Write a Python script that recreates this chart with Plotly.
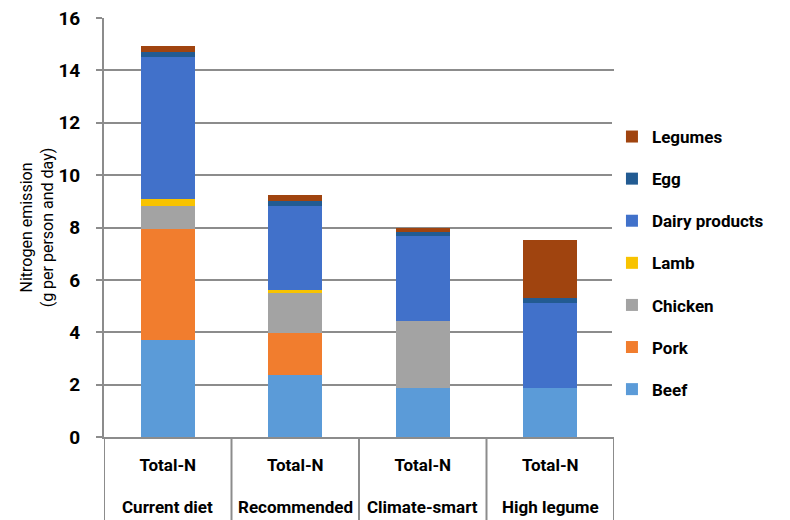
import plotly.graph_objects as go

diets = ["Current diet", "Recommended", "Climate-smart", "High legume"]
measure = ["Total-N", "Total-N", "Total-N", "Total-N"]

beef = [3.71, 2.35, 1.89, 1.89]
pork = [4.22, 1.64, 0.0, 0.0]
chicken = [0.89, 1.52, 2.53, 0.0]
lamb = [0.28, 0.10, 0.0, 0.0]
dairy = [5.40, 3.21, 3.25, 3.24]
egg = [0.19, 0.18, 0.16, 0.19]
legumes = [0.23, 0.23, 0.15, 2.20]

series = [
    ("Beef", beef, "#5B9BD8"),
    ("Pork", pork, "#F17D2E"),
    ("Chicken", chicken, "#A3A3A3"),
    ("Lamb", lamb, "#F8C300"),
    ("Dairy products", dairy, "#4171CA"),
    ("Egg", egg, "#225B92"),
    ("Legumes", legumes, "#A0440F"),
]

FONT = "Roboto, Liberation Sans, sans-serif"
GRID = "#8C8C8C"

fig = go.Figure()
n = len(series)
for i, (name, vals, col) in enumerate(series):
    fig.add_trace(go.Bar(
        x=diets, y=vals, name=name,
        marker=dict(color=col, line=dict(width=0)),
        width=0.42, legendgroup=name, legendrank=n - i,
    ))

# page body has an 8px margin, so the figure is 782x512 to fill a 790x520 window
fig.update_layout(
    barmode="stack",
    width=782, height=512,
    margin=dict(l=96, r=176, t=10, b=83, autoexpand=False),
    paper_bgcolor="white", plot_bgcolor="white",
    font=dict(family=FONT, size=17, color="#000000", weight="bold"),
    legend=dict(
        x=0.996, y=0.759, xanchor="left", yanchor="top",
        traceorder="grouped", tracegroupgap=17,
        font=dict(family=FONT, size=17, color="#000000", weight="bold"),
        itemwidth=30,
    ),
    showlegend=True,
)
fig.update_yaxes(
    range=[0, 16], dtick=2, showgrid=True, gridcolor=GRID, gridwidth=2,
    showline=True, linecolor=GRID, linewidth=2,
    ticks="outside", ticklen=6, tickcolor=GRID, tickwidth=2,
    ticklabelstandoff=12, ticklabeloverflow="allow", automargin=False,
    tickfont=dict(family=FONT, size=19, weight="bold"),
    title=dict(text="Nitrogen emission<br>(g per person and day)",
               font=dict(family=FONT, size=16, weight="normal"), standoff=1),
    zeroline=False,
)
fig.update_xaxes(
    type="category", range=[-0.5, len(diets) - 0.5],
    tickvals=diets, ticktext=measure, automargin=False,
    showline=True, linecolor=GRID, linewidth=2, mirror=False,
    ticks="", ticklabelstandoff=12,
    tickfont=dict(family=FONT, size=17, weight="bold"),
    showgrid=False,
)

# second row of category labels (diet names) and category dividers
for d in diets:
    fig.add_annotation(x=d, xref="x", y=-0.167, yref="paper", text=d,
                       showarrow=False, yanchor="middle",
                       font=dict(family=FONT, size=17, weight="bold", color="#000000"))
for i in range(len(diets) + 1):
    fig.add_shape(type="line", xref="x", yref="paper",
                  x0=i - 0.5, x1=i - 0.5, y0=0, y1=-0.2,
                  line=dict(color=GRID, width=2))

fig.write_html("out.html")
